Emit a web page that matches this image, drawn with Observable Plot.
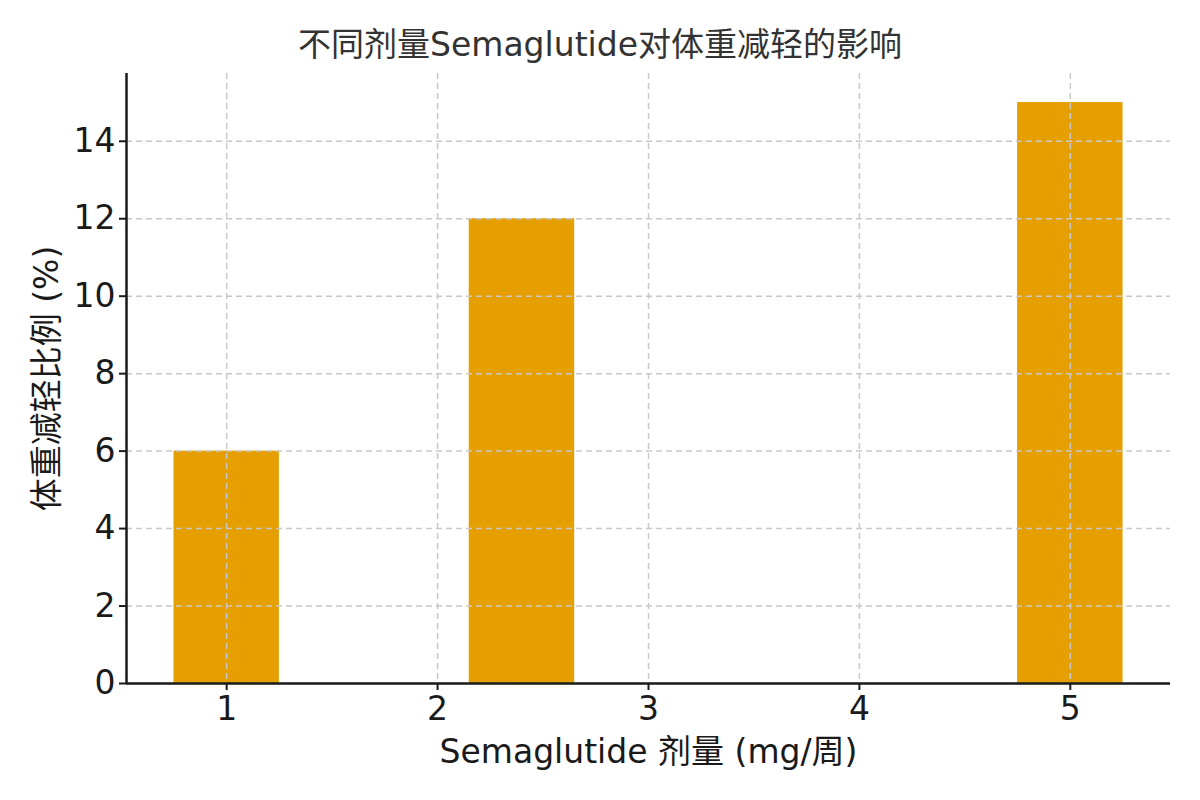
<!DOCTYPE html>
<html>
<head>
<meta charset="utf-8">
<script src="https://cdn.jsdelivr.net/npm/d3@7"></script>
<script src="https://cdn.jsdelivr.net/npm/@observablehq/plot@0.6"></script>
<style>
  html, body { margin: 0; padding: 0; background: #fff; }
  #wrap { width: 1200px; font-family: "DejaVu Sans", "Noto Sans CJK SC", sans-serif; }
  #title { height: 30px; padding-top: 30px; line-height: 30px; text-align: center; font-size: 33px; color: #333; }
  #chart svg text { font-family: "DejaVu Sans", "Noto Sans CJK SC", sans-serif; }
</style>
</head>
<body>
<div id="wrap">
  <div id="title"></div>
  <div id="chart"></div>
</div>
<script>
const titleText = "不同剂量Semaglutide对体重减轻的影响";
const xLabel = "Semaglutide 剂量 (mg/周)";
const yLabel = "体重减轻比例 (%)";
const doses = [1, 2.4, 5];
const weightLoss = [6, 12, 15];
const xTicks = [1, 2, 3, 4, 5];
const yTicks = [0, 2, 4, 6, 8, 10, 12, 14];

document.getElementById("title").textContent = titleText;

const barWidth = 0.5;
const data = doses.map((d, i) => ({dose: d, value: weightLoss[i]}));
const xMin = d3.min(doses) - barWidth / 2, xMax = d3.max(doses) + barWidth / 2;
const xPad = (xMax - xMin) * 0.05;
const xDomain = [xMin - xPad, xMax + xPad];
const yDomain = [0, d3.max(weightLoss) * 1.05];

const ink = "#1a1a1a";
const chart = Plot.plot({
  width: 1200,
  height: 740,
  marginTop: 13,
  marginBottom: 117,
  marginLeft: 126,
  marginRight: 30,
  style: {fontFamily: '"DejaVu Sans", "Noto Sans CJK SC", sans-serif', fontSize: "30px", color: ink, background: "#fff"},
  x: {domain: xDomain},
  y: {domain: yDomain},
  marks: [
    Plot.rectY(data, {x1: d => d.dose - barWidth / 2, x2: d => d.dose + barWidth / 2, y1: 0, y2: "value", fill: "#E69F00"}),
    Plot.gridX(xTicks, {stroke: "#c8c8c8", strokeOpacity: 1, strokeWidth: 1.5, strokeDasharray: "6,4"}),
    Plot.gridY(yTicks, {stroke: "#c8c8c8", strokeOpacity: 1, strokeWidth: 1.5, strokeDasharray: "6,4"}),
    Plot.axisX(xTicks, {tickSize: 7, tickPadding: 6, tickFormat: "d", label: null, fontSize: 33, stroke: ink, strokeWidth: 2}),
    Plot.axisY(yTicks, {tickSize: 7, tickPadding: 4, tickFormat: "d", label: null, fontSize: 33, stroke: ink, strokeWidth: 2}),
    Plot.ruleY([yDomain[0]], {stroke: ink, strokeWidth: 2.5}),
    Plot.ruleX([xDomain[0]], {stroke: ink, strokeWidth: 2.5}),
    Plot.text([xLabel], {frameAnchor: "bottom", dy: 69, textAnchor: "middle", lineAnchor: "middle", fontSize: 33, fill: ink}),
    Plot.text([yLabel], {frameAnchor: "left", dx: -79, rotate: -90, textAnchor: "middle", lineAnchor: "middle", fontSize: 33, fill: ink})
  ]
});
document.getElementById("chart").appendChild(chart);
</script>
</body>
</html>
